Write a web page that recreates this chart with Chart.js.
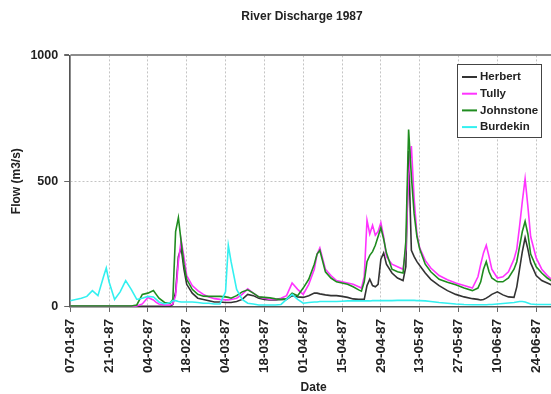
<!DOCTYPE html>
<html>
<head>
<meta charset="utf-8">
<script src="https://cdn.jsdelivr.net/npm/chart.js@4.4.0/dist/chart.umd.min.js"></script>
<style>
  html, body { margin: 0; padding: 0; background: #fff; overflow: hidden; }
  #wrap { width: 600px; height: 394px; }
</style>
</head>
<body>
<div id="wrap"><canvas id="chart" width="600" height="394"></canvas></div>
<script>
// days counted from 07-01-87
const days = [0,2,4,6,8,9,10,12,13,14,16,18,20,22,24,26,28,30,31,32,34,
  36,37,38,39,40,41,42,44,46,48,50,52,54,56,57,58,
  60,62,64,66,68,70,72,74,76,78,80,82,84,86,88,89,90,92,94,96,98,100,102,104,105,
  106,107,108,109,110,111,112,113,114,116,118,120,121,122,123,124,125,126,128,130,
  133,136,139,142,145,147,148,149,150,151,152,154,156,158,160,161,162,163,164,165,166,168,170,172,174,176];

const herbert = [3,3,3,3,3,3,3,3,3,3,3,3,3,3,3,3,3,3,3,3,3,
  3,10,60,200,235,150,90,55,35,30,25,20,20,18,18,18,
  22,30,50,45,35,30,28,28,30,30,45,40,38,45,55,55,52,48,45,45,42,38,32,30,30,
  30,85,110,85,80,90,190,215,170,135,115,105,160,620,225,200,180,165,135,110,
  85,65,50,40,33,30,28,30,35,42,50,60,48,40,38,80,150,220,275,230,175,125,105,95,85,80];

const tully = [2,2,2,2,2,2,2,2,2,2,2,2,2,2,4,12,38,28,18,12,8,
  8,12,45,180,265,200,125,85,65,50,40,33,30,28,28,30,
  35,50,72,55,40,35,30,30,35,45,95,70,50,90,150,210,235,150,125,105,100,95,90,80,75,
  120,345,290,325,285,300,335,280,200,170,160,150,230,520,640,430,290,235,185,155,
  125,108,95,85,75,120,170,215,245,200,150,115,120,140,190,230,320,420,510,400,280,195,150,125,105,100];

const johnstone = [4,4,4,4,4,4,4,4,4,4,4,4,4,4,8,50,55,65,50,35,18,
  15,30,300,355,260,170,110,70,50,43,42,42,42,40,38,35,
  45,60,68,55,40,38,36,32,30,32,55,45,75,110,170,210,225,140,115,100,95,90,80,68,63,
  100,180,205,220,245,280,315,270,215,150,140,135,260,705,520,370,280,230,170,140,
  110,98,88,75,65,75,100,150,180,140,115,100,100,115,150,180,240,300,340,290,210,160,135,115,100,95];

const burdekin = [25,30,35,42,65,55,45,120,155,100,30,60,105,70,30,35,42,40,30,20,12,
  18,25,25,22,20,20,20,20,18,15,15,12,12,60,245,180,
  70,30,15,12,8,8,8,8,10,30,50,30,15,18,20,20,22,22,22,22,23,24,24,24,24,
  24,24,24,25,25,25,25,25,25,25,26,26,26,26,26,26,25,25,24,22,
  18,15,12,10,9,9,9,9,9,10,10,12,14,16,18,20,22,22,20,16,12,10,10,10,10,10];

const tickDays = [0,14,28,42,56,70,84,98,112,126,140,154,168];
const tickLabels = ['07-01-87','21-01-87','04-02-87','18-02-87','04-03-87','18-03-87','01-04-87',
  '15-04-87','29-04-87','13-05-87','27-05-87','10-06-87','24-06-87'];
const flowTicks = [0, 500, 1000];

const series = [
  {label: 'Herbert', values: herbert, color: '#333333', order: 4},
  {label: 'Tully', values: tully, color: '#ff33ff', order: 3},
  {label: 'Johnstone', values: johnstone, color: '#1f8c1f', order: 2},
  {label: 'Burdekin', values: burdekin, color: '#33f0f0', order: 1}
];

const FONT = 'Liberation Sans, Arial, sans-serif';

// legend box drawn inside the plot, like the original
const legendBox = {
  id: 'legendBox',
  afterDraw(chart) {
    const ctx = chart.ctx;
    const x = 457, y = 64, w = 84, h = 73;
    ctx.save();
    ctx.fillStyle = '#fff';
    ctx.fillRect(x, y, w, h);
    ctx.strokeStyle = '#444';
    ctx.lineWidth = 1;
    ctx.strokeRect(x + 0.5, y + 0.5, w, h);
    ctx.font = 'bold 11.5px ' + FONT;
    ctx.textBaseline = 'middle';
    chart.data.datasets.forEach((ds, i) => {
      const ry = 77 + i * 16.7;
      ctx.strokeStyle = ds.borderColor;
      ctx.lineWidth = 2;
      ctx.beginPath();
      ctx.moveTo(462, ry);
      ctx.lineTo(477, ry);
      ctx.stroke();
      ctx.fillStyle = '#222';
      ctx.fillText(ds.label, 480, ry);
    });
    ctx.restore();
  }
};

// the original picture is cropped on the right, so centre the title on the full canvas
const titleShift = {
  id: 'titleShift',
  afterLayout(chart) {
    const t = chart.titleBlock;
    if (t) { t.right = chart.width; t.width = t.right - t.left; }
  }
};

new Chart(document.getElementById('chart'), {
  type: 'line',
  data: {
    datasets: series.map(s => ({
      label: s.label,
      data: days.map((d, i) => ({x: d, y: s.values[i]})),
      borderColor: s.color,
      backgroundColor: s.color,
      borderWidth: 1.6,
      pointRadius: 0,
      tension: 0,
      order: s.order
    }))
  },
  options: {
    responsive: false,
    animation: false,
    layout: {padding: {left: 4, right: 43, top: 0, bottom: 0}},
    plugins: {
      legend: {display: false},
      tooltip: {enabled: false},
      title: {
        display: true,
        text: 'River Discharge 1987',
        color: '#222',
        font: {family: FONT, size: 12, weight: 'bold'},
        padding: {top: 9, bottom: 32}
      }
    },
    scales: {
      x: {
        type: 'linear',
        min: 0,
        max: 175.5,
        afterBuildTicks: s => { s.ticks = tickDays.map(v => ({value: v})); },
        ticks: {
          autoSkip: false,
          maxRotation: 90,
          minRotation: 90,
          padding: 7,
          color: '#222',
          font: {family: FONT, size: 13.5, weight: 'bold'},
          callback: v => tickLabels[tickDays.indexOf(v)]
        },
        grid: {color: '#c4c4c4', lineWidth: 1, tickLength: 5, tickColor: '#666'},
        border: {color: '#555', width: 1.5, dash: c => (c.tick && c.tick.value === 0) ? [] : [2, 2]},
        title: {
          display: true,
          text: 'Date',
          color: '#222',
          font: {family: FONT, size: 12, weight: 'bold', lineHeight: 1},
          padding: {top: 2, bottom: 0}
        }
      },
      y: {
        min: 0,
        max: 1000,
        afterBuildTicks: s => { s.ticks = flowTicks.map(v => ({value: v})); },
        ticks: {
          padding: 6,
          color: '#222',
          font: {family: FONT, size: 12.5, weight: 'bold'},
          callback: v => String(v)
        },
        grid: {
          color: c => c.tick.value === 1000 ? '#8c8c8c' : '#c4c4c4',
          lineWidth: c => c.tick.value === 1000 ? 2 : 1,
          tickLength: 6,
          tickColor: '#666'
        },
        border: {color: '#555', width: 1.5, dash: c => (c.tick && c.tick.value === 500) ? [2, 2] : []},
        title: {
          display: true,
          text: 'Flow (m3/s)',
          color: '#222',
          font: {family: FONT, size: 12, weight: 'bold'},
          padding: {top: 5, bottom: 1}
        }
      }
    }
  },
  plugins: [legendBox, titleShift]
});
</script>
</body>
</html>
